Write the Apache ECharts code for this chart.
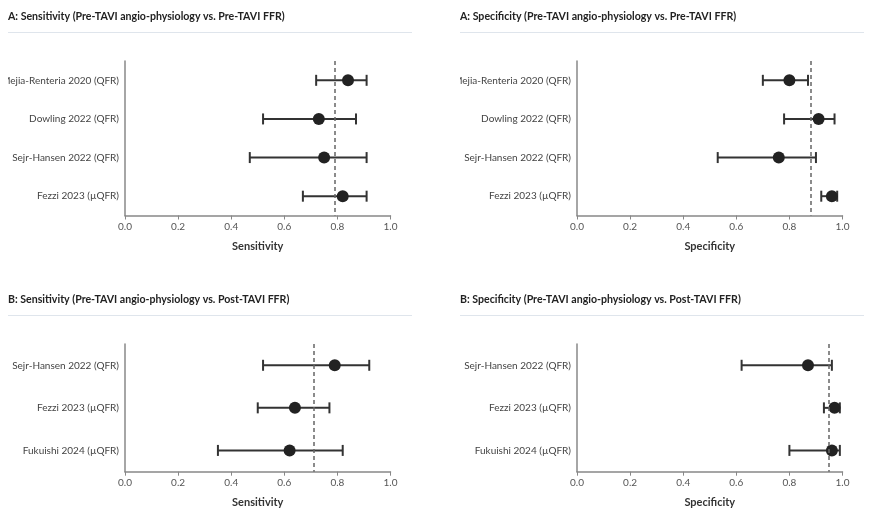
<!DOCTYPE html>
<html>
<head>
<meta charset="utf-8">
<script src="https://cdn.jsdelivr.net/npm/echarts@6/dist/echarts.min.js"></script>
<style>
  body { margin: 0; background: #fff; }
  .panel { position: absolute; width: 404px; }
</style>
</head>
<body>
<div id="sensA" class="panel" style="left:8px;top:0;height:265px"></div>
<div id="specA" class="panel" style="left:460px;top:0;height:265px"></div>
<div id="sensB" class="panel" style="left:8px;top:283px;height:247px"></div>
<div id="specB" class="panel" style="left:460px;top:283px;height:247px"></div>
<script>
// studies
const studiesA = ['Mejia-Renteria 2020 (QFR)', 'Dowling 2022 (QFR)', 'Sejr-Hansen 2022 (QFR)', 'Fezzi 2023 (µQFR)']
const studiesB = ['Sejr-Hansen 2022 (QFR)', 'Fezzi 2023 (µQFR)', 'Fukuishi 2024 (µQFR)']

// A: pre-TAVI FFR
const sensA = [0.84, 0.73, 0.75, 0.82]
const sensALow = [0.72, 0.52, 0.47, 0.67]
const sensAHigh = [0.91, 0.87, 0.91, 0.91]
const sensARef = 0.79

const specA = [0.80, 0.91, 0.76, 0.96]
const specALow = [0.70, 0.78, 0.53, 0.92]
const specAHigh = [0.87, 0.97, 0.90, 0.98]
const specARef = 0.88

// B: post-TAVI FFR
const sensB = [0.79, 0.64, 0.62]
const sensBLow = [0.52, 0.50, 0.35]
const sensBHigh = [0.92, 0.77, 0.82]
const sensBRef = 0.71

const specB = [0.87, 0.97, 0.96]
const specBLow = [0.62, 0.93, 0.80]
const specBHigh = [0.96, 0.99, 0.99]
const specBRef = 0.95

const xTicks = [0, 0.2, 0.4, 0.6, 0.8, 1.0]

const FONT = '"Source Sans Pro", Lato, "Noto Sans", sans-serif'

function makePanel(id, title, axisName, studies, est, low, high, ref, gridBottom) {
  const chart = echarts.init(document.getElementById(id))
  chart.setOption({
    animation: false,
    textStyle: { fontFamily: FONT },
    title: {
      text: title,
      left: 0,
      top: 11,
      padding: 0,
      textStyle: { fontSize: 10.6, fontWeight: 'bold', color: '#222', fontFamily: FONT }
    },
    graphic: [{
      type: 'line',
      shape: { x1: 0, y1: 32.5, x2: 404, y2: 32.5 },
      style: { stroke: '#dfe5ec', lineWidth: 1 }
    }],
    grid: { left: 117, right: 21.5, top: 61, bottom: gridBottom, outerBoundsMode: 'none', containLabel: false },
    xAxis: {
      type: 'value',
      min: 0,
      max: 1,
      interval: 0.2,
      name: axisName,
      nameLocation: 'middle',
      nameGap: 25,
      nameTextStyle: { fontSize: 11, fontWeight: 'bold', color: '#333' },
      axisLine: { show: true, lineStyle: { color: '#888', width: 1.5 } },
      axisTick: { show: true, length: 4, lineStyle: { color: '#888' } },
      axisLabel: {
        fontSize: 10,
        color: '#555',
        margin: 6,
        formatter: v => xTicks.indexOf(Math.round(v * 10) / 10) >= 0 ? v.toFixed(1) : ''
      },
      splitLine: { show: false }
    },
    yAxis: {
      type: 'category',
      data: studies,
      inverse: true,
      axisLine: { show: true, lineStyle: { color: '#888', width: 1.5 } },
      axisTick: { show: false },
      axisLabel: { fontSize: 10, color: '#444', margin: 6 }
    },
    series: [{
      type: 'custom',
      data: studies.map((s, i) => [low[i], high[i], i]),
      renderItem(params, api) {
        const a = api.coord([api.value(0), api.value(2)])
        const b = api.coord([api.value(1), api.value(2)])
        const h = 5.5
        const style = { stroke: '#333', lineWidth: 2 }
        return {
          type: 'group',
          children: [
            { type: 'line', shape: { x1: a[0], y1: a[1], x2: b[0], y2: b[1] }, style },
            { type: 'line', shape: { x1: a[0], y1: a[1] - h, x2: a[0], y2: a[1] + h }, style },
            { type: 'line', shape: { x1: b[0], y1: b[1] - h, x2: b[0], y2: b[1] + h }, style }
          ]
        }
      },
      z: 2
    }, {
      type: 'scatter',
      data: studies.map((s, i) => [est[i], i]),
      symbolSize: 12,
      itemStyle: { color: '#222', opacity: 1 },
      z: 3,
      markLine: {
        silent: true,
        symbol: 'none',
        label: { show: false },
        lineStyle: { color: '#666', type: [4, 3], width: 1.5 },
        data: [{ xAxis: ref }]
      }
    }]
  })
}

makePanel('sensA', 'A: Sensitivity (Pre-TAVI angio-physiology vs. Pre-TAVI FFR)', 'Sensitivity',
  studiesA, sensA, sensALow, sensAHigh, sensARef, 49.5)
makePanel('specA', 'A: Specificity (Pre-TAVI angio-physiology vs. Pre-TAVI FFR)', 'Specificity',
  studiesA, specA, specALow, specAHigh, specARef, 49.5)
makePanel('sensB', 'B: Sensitivity (Pre-TAVI angio-physiology vs. Post-TAVI FFR)', 'Sensitivity',
  studiesB, sensB, sensBLow, sensBHigh, sensBRef, 58.3)
makePanel('specB', 'B: Specificity (Pre-TAVI angio-physiology vs. Post-TAVI FFR)', 'Specificity',
  studiesB, specB, specBLow, specBHigh, specBRef, 58.3)
</script>
</body>
</html>
